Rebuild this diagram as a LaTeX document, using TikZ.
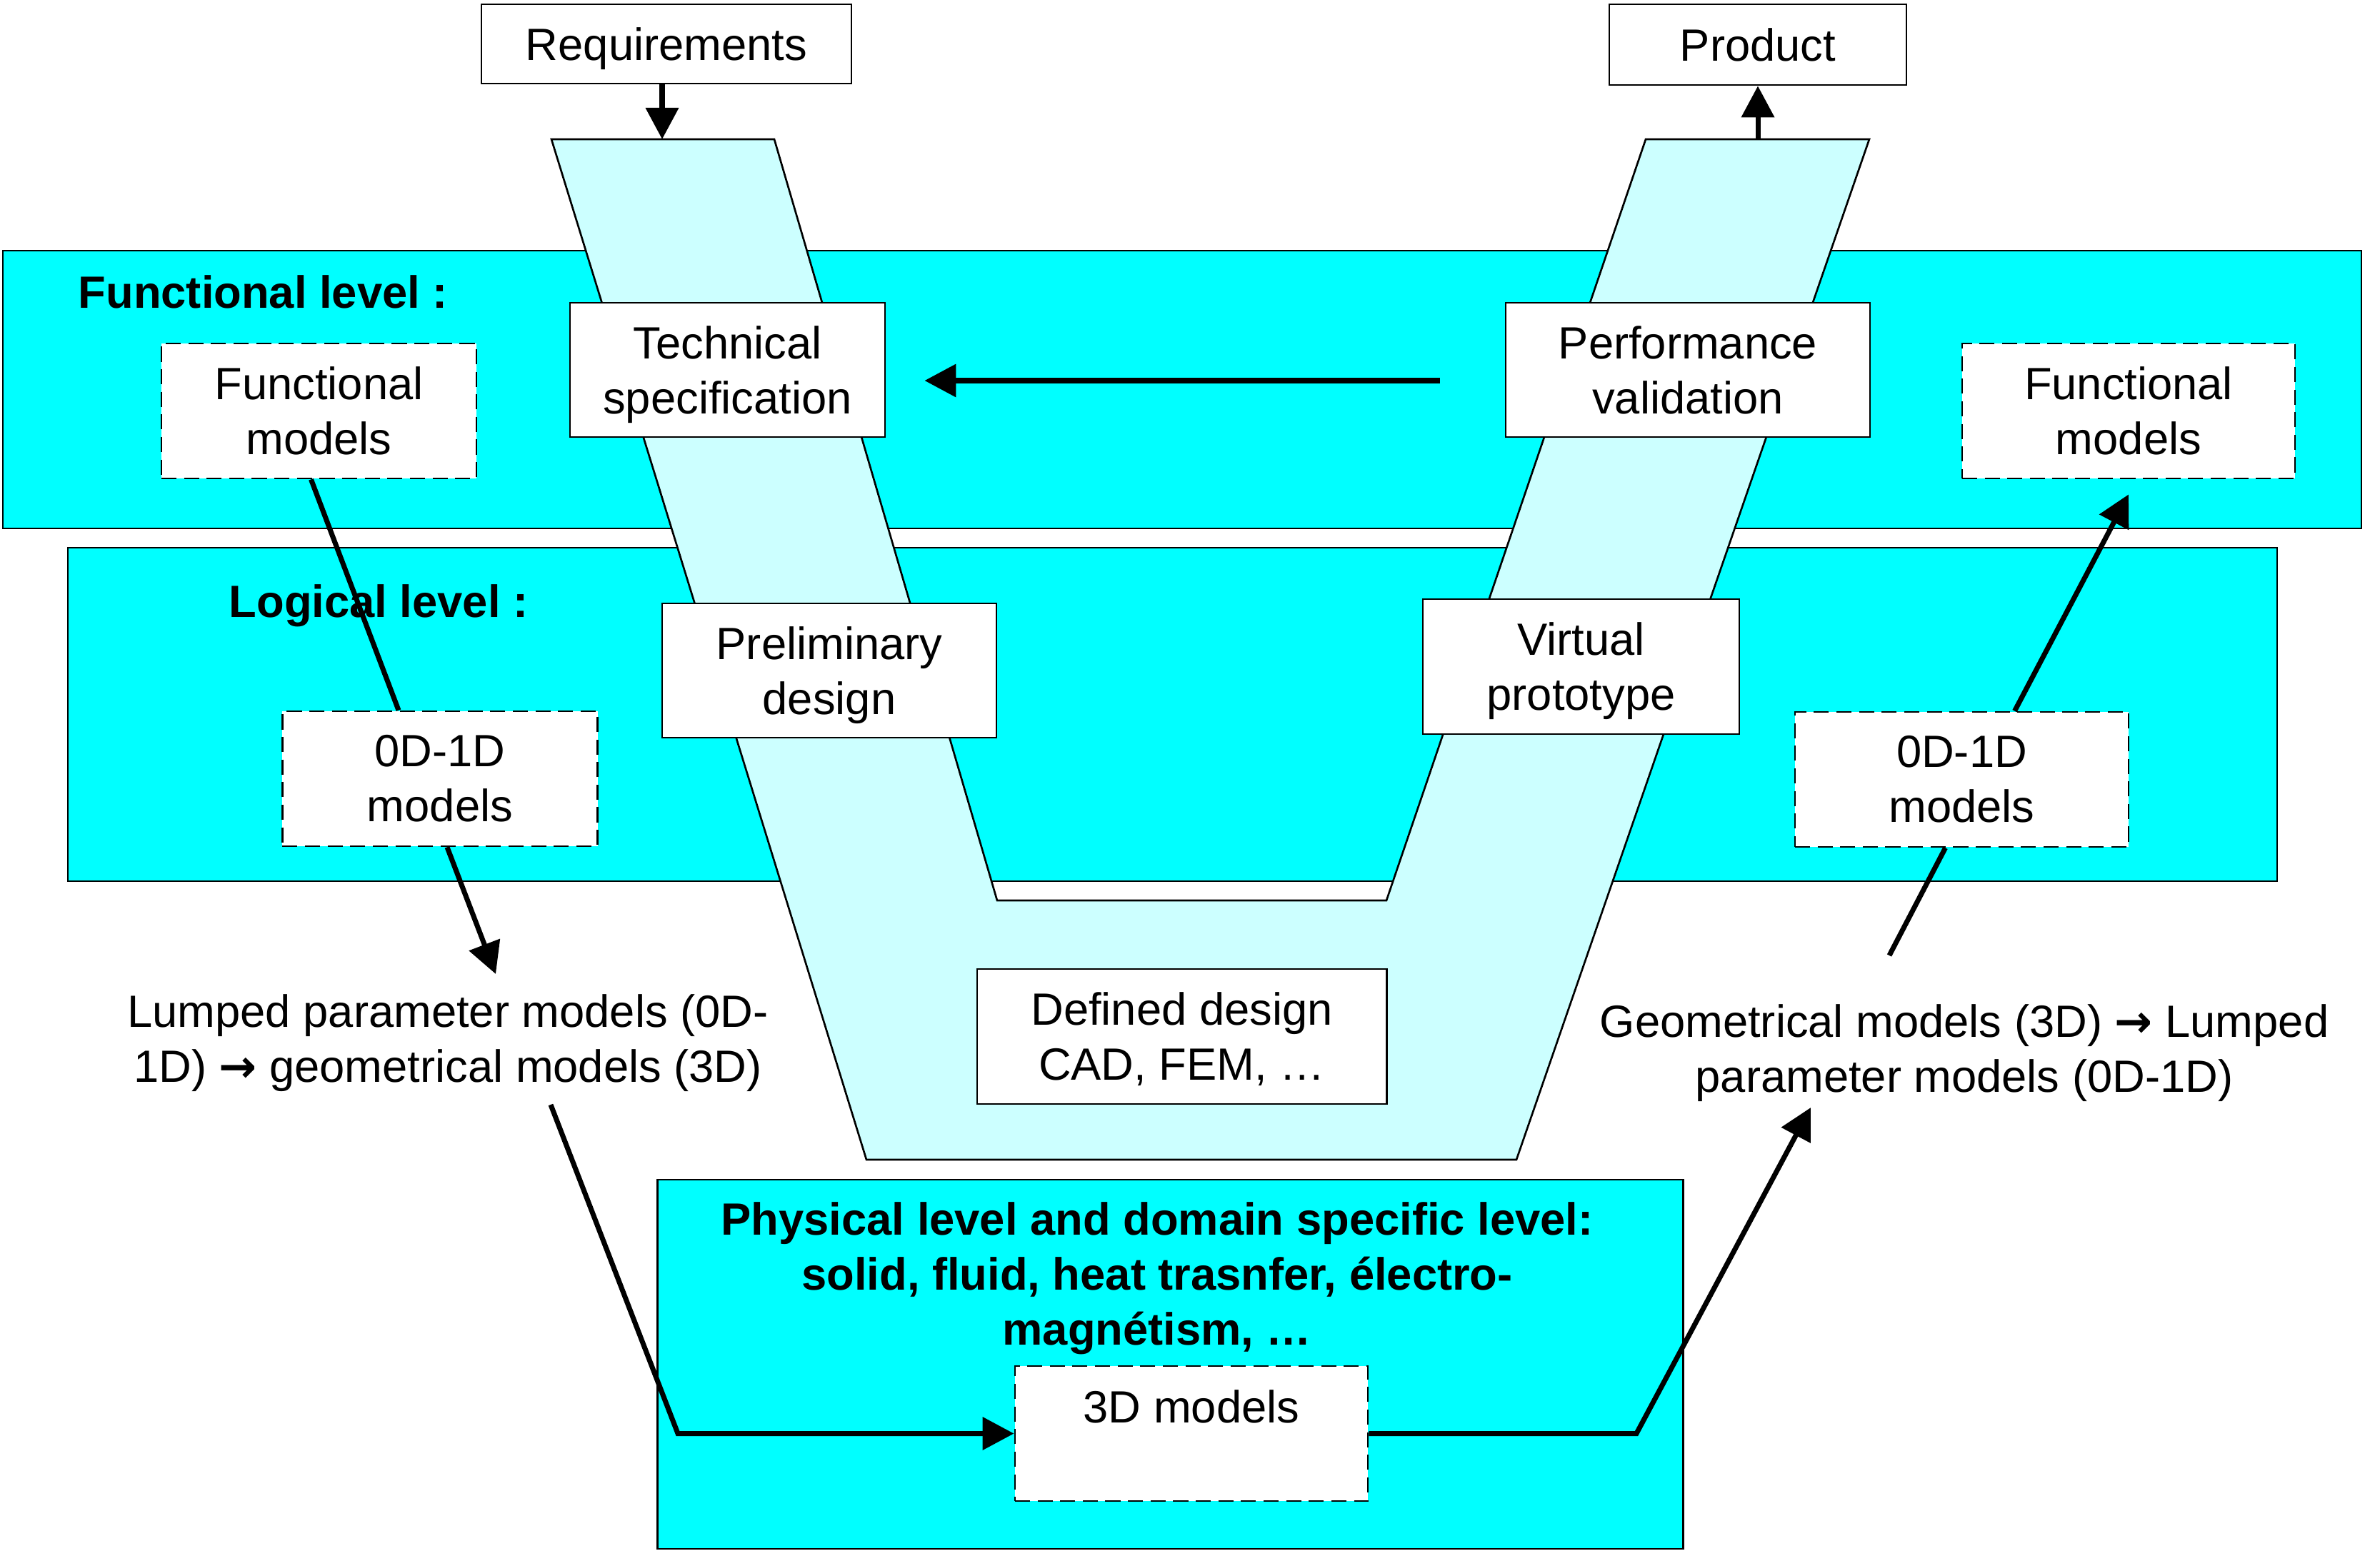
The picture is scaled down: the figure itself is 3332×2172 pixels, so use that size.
\documentclass[tikz,border=0pt]{standalone}
\usepackage{fontspec}
\setmainfont{Liberation Sans}
\newfontfamily\arrowfont{DejaVu Sans}
\newcommand{\toarrow}{{\arrowfont\bfseries →}}
\newcommand{\nodesc}[1]{\raisebox{0pt}[\height][0pt]{#1}}
\usetikzlibrary{arrows.meta,calc}
\definecolor{lvl}{HTML}{00FFFF}
\definecolor{vfill}{HTML}{CCFFFF}
\begin{document}
\begin{tikzpicture}[x=0.01cm,y=-0.01cm,
  every node/.style={font=\fontsize{18}{21.9}\selectfont},
  level/.style={draw, fill=lvl, line width=0.75pt, inner sep=0pt},
  sbox/.style={draw, fill=white, line width=0.75pt, align=center, inner sep=0pt},
  dbox/.style={sbox, dash pattern=on 6pt off 3pt},
  conn/.style={line width=2pt},
  arr/.style={conn, -{Triangle[length=0.44cm,width=0.45cm]}},
  lbl/.style={align=center, inner sep=0pt},
  bold/.style={font=\fontsize{18}{21.9}\selectfont\bfseries, inner sep=0pt}
]
\useasboundingbox (0,0) rectangle (3332,2172);

% level bands
\node[level, minimum width=33.00cm, minimum height=3.89cm] (funcLvl) at (1655,545.5) {};
\node[level, minimum width=30.91cm, minimum height=4.67cm] (logLvl) at (1641.5,1000.5) {};
\node[level, minimum width=14.35cm, minimum height=5.17cm] (physLvl) at (1638.5,1910.5) {};
\node[bold, anchor=base west] (funcLbl) at (109,431) {Functional level :};
\node[bold, anchor=base west] (logLbl) at (320,864) {Logical level :};
\node[bold, align=center] (physLbl) at (1620,1790) {Physical level and domain specific level:\\solid, fluid, heat trasnfer, électro-\\magnétism, …};

% the V
\draw[fill=vfill, line width=0.75pt] (772,195) -- (1084,195) -- (1396,1261) -- (1941,1261)
  -- (2304,195) -- (2617,195) -- (2123,1624) -- (1213,1624) -- cycle;
\coordinate (vIn) at (927,195);
\coordinate (vOut) at (2461,195);

% boxes
\node[sbox, minimum width=5.18cm, minimum height=1.11cm] (req) at (933,61.5) {\nodesc{Requirements}};
\node[sbox, minimum width=4.16cm, minimum height=1.13cm] (prod) at (2461,62.5) {Product};
\node[sbox, minimum width=4.41cm, minimum height=1.88cm] (tech) at (1018.5,518) {Technical\\\nodesc{specification}};
\node[sbox, minimum width=5.10cm, minimum height=1.88cm] (perf) at (2363,518) {Performance\\validation};
\node[dbox, minimum width=4.41cm, minimum height=1.89cm] (fml) at (446.5,575.5) {Functional\\models};
\node[dbox, minimum width=4.66cm, minimum height=1.89cm] (fmr) at (2980,575.5) {Functional\\models};
\node[sbox, minimum width=4.68cm, minimum height=1.88cm] (pre) at (1161,939) {Preliminary\\\nodesc{design}};
\node[sbox, minimum width=4.43cm, minimum height=1.89cm] (vir) at (2213.5,933.5) {Virtual\\\nodesc{prototype}};
\node[dbox, minimum width=4.41cm, minimum height=1.89cm] (zdl) at (616,1090.5) {0D-1D\\models};
\node[dbox, minimum width=4.67cm, minimum height=1.89cm] (zdr) at (2746.5,1091.5) {0D-1D\\models};
\node[sbox, minimum width=5.73cm, minimum height=1.89cm] (dd) at (1654.5,1451.5) {Defined design\\\nodesc{CAD, FEM, …}};
\node[dbox, minimum width=4.94cm, minimum height=1.89cm] (m3d) at (1668,2007.5) {};
\node[lbl] (m3dLbl) at (1668,1970) {3D models};

% free texts
\node[lbl] (lump) at (627,1461) {Lumped parameter models (0D-\\1D) \toarrow{} geometrical models (3D)};
\node[lbl] (geo) at (2750,1475) {Geometrical models (3D) \toarrow{} Lumped\\parameter models (0D-1D)};

% connector ends
\coordinate (lumpIn) at (694,1364);
\coordinate (lumpOut) at (771,1547);
\coordinate (bendL) at (949,2007.5);
\coordinate (bendR) at (2291,2007.5);
\coordinate (geoIn) at (2535,1551);
\coordinate (geoOut) at (2645,1338);

% connectors
\draw[arr] (req.south -| vIn) -- (vIn);
\draw[arr] (vOut) -- (prod.south);
\draw[arr] ($(perf.west)+(-91,15)$) -- ($(tech.east)+(54,15)$);
\draw[conn] ($(fml.south)+(-11,0)$) -- ($(zdl.north)+(-58,0)$);
\draw[arr] ($(zdl.south)+(10,0)$) -- (lumpIn);
\draw[arr] (lumpOut) -- (bendL) -- (m3d.west);
\draw[arr] (m3d.east) -- (bendR) -- (geoIn);
\draw[conn] (geoOut) -- ($(zdr.south)+(-23,0)$);
\draw[arr] ($(zdr.north)+(74,0)$) -- ($(fmr.south)+(0,21)$);
\end{tikzpicture}
\end{document}
